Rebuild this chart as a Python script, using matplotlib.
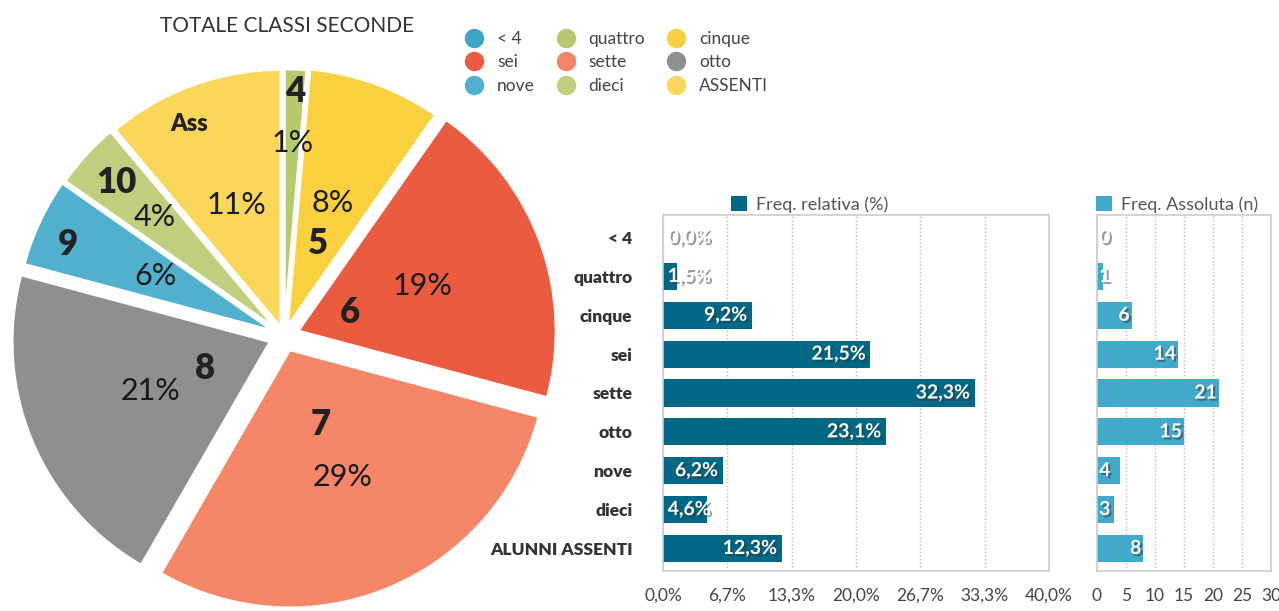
import matplotlib
matplotlib.use("Agg")
import matplotlib.pyplot as plt
import matplotlib.patheffects as pe
import numpy as np
from matplotlib.lines import Line2D

plt.rcParams['font.family'] = ['Lato', 'DejaVu Sans']

# data
categories = ['< 4', 'quattro', 'cinque', 'sei', 'sette', 'otto', 'nove', 'dieci', 'ASSENTI']
bar_labels = ['< 4', 'quattro', 'cinque', 'sei', 'sette', 'otto', 'nove', 'dieci', 'ALUNNI ASSENTI']
pie_numbers = ['', '4', '5', '6', '7', '8', '9', '10', 'Ass']
counts = [0, 1, 6, 14, 21, 15, 4, 3, 8]
rel_freq = [0.0, 1.5, 9.2, 21.5, 32.3, 23.1, 6.2, 4.6, 12.3]

colors = ['#3fa5c8', '#b5c96f', '#f9d13f', '#ea5b40', '#f58667',
          '#8f8f8f', '#50b0ce', '#bfcf7d', '#fad65a']
explode = [0, 0.035, 0.04, 0.058, 0.058, 0.058, 0.045, 0.04, 0.035]
# label placement (fraction of radius, angle shift in degrees)
num_r = [0, 0.95, 0.38, 0.27, 0.37, 0.33, 0.91, 0.88, 0.90]
num_da = [0, 0, 0, 0, 0, 0, 2, 0, 4]
pct_r = [0, 0.75, 0.55, 0.57, 0.59, 0.56, 0.55, 0.68, 0.54]

W, H = 1279, 611
fig = plt.figure(figsize=(W / 100, H / 100), dpi=100)

# ---- pie
R = 258
cx, cy = 284, 336
half = 1.1 * R
axp = fig.add_axes([(cx - half) / W, (H - cy - half) / H, 2 * half / W, 2 * half / H])
wedges, _ = axp.pie(counts, colors=colors, startangle=90, counterclock=False,
                    explode=explode, radius=1,
                    wedgeprops=dict(edgecolor='white', linewidth=2))
axp.set_xlim(-1.1, 1.1)
axp.set_ylim(-1.1, 1.1)
axp.set_aspect('equal')
axp.axis('off')

total = sum(counts)
for i, w in enumerate(wedges):
    if counts[i] == 0:
        continue
    mid = (w.theta1 + w.theta2) / 2
    a1 = np.deg2rad(mid + num_da[i])
    fs = 17 if pie_numbers[i] == 'Ass' else 25
    axp.text(num_r[i] * np.cos(a1), num_r[i] * np.sin(a1), pie_numbers[i],
             ha='center', va='center', fontsize=fs, fontweight='heavy', color='#222222')
    a2 = np.deg2rad(mid)
    pct = round(100 * counts[i] / total)
    axp.text(pct_r[i] * np.cos(a2), pct_r[i] * np.sin(a2), f'{pct}%',
             ha='center', va='center', fontsize=22, color='#1a1a1a')

fig.text(287 / W, 1 - 26 / H, 'TOTALE CLASSI SECONDE', ha='center', va='center',
         fontsize=15, color='#333333')

handles = [Line2D([], [], marker='o', linestyle='', markersize=13,
                  markerfacecolor=c, markeredgecolor=c) for c in colors]
order = [0, 3, 6, 1, 4, 7, 2, 5, 8]
fig.legend([handles[i] for i in order], [categories[i] for i in order],
           loc='upper left', bbox_to_anchor=(457 / W, 1 - 31 / H), ncol=3,
           frameon=False, fontsize=12.5, handletextpad=0.3, columnspacing=0.8,
           labelspacing=0.42, borderaxespad=0, borderpad=0, labelcolor='#444444')

# ---- bars
shadow = [pe.SimplePatchShadow(offset=(1.5, -1.5), shadow_rgbFace='#333333', alpha=0.5),
          pe.Normal()]
y = np.arange(len(categories))


def bar_panel(ax, vals, color, xmax, ticks, fmt, label, thr, legend_x):
    ax.barh(y, vals, height=0.7, color=color, label=label, zorder=2)
    ax.set_ylim(len(vals) - 0.42, -0.58)
    ax.set_xlim(0, xmax)
    ax.set_xticks(ticks)
    ax.set_xticklabels([fmt(t) for t in ticks])
    ax.grid(axis='x', linestyle=':', color='#bbbbbb', linewidth=1, zorder=0)
    for s in ax.spines.values():
        s.set_color('#cccccc')
        s.set_linewidth(1.2)
    ax.tick_params(axis='x', length=0, pad=12, labelsize=12.5, labelcolor='#444444')
    ax.tick_params(axis='y', length=0)
    pad = xmax * 0.012
    for yi, v in zip(y, vals):
        txt = fmt(v) if isinstance(v, float) else str(v)
        if v < thr:
            ax.text(pad, yi, txt, ha='left', va='center', color='white',
                    fontsize=14, fontweight='bold', path_effects=shadow, zorder=3)
        else:
            ax.text(v - pad, yi, txt, ha='right', va='center', color='white',
                    fontsize=14, fontweight='bold', path_effects=shadow, zorder=3)
    ax.legend(loc='lower center', bbox_to_anchor=(legend_x, 1.0), frameon=False,
              fontsize=13, handlelength=0.9, handleheight=0.9, handletextpad=0.5,
              borderaxespad=0.1, borderpad=0, labelcolor='#555555')


ax1 = fig.add_axes([663 / W, (H - 571) / H, 386 / W, 356 / H])
ticks1 = [i * 40 / 6 for i in range(7)]
bar_panel(ax1, rel_freq, '#006885', 40, ticks1,
          lambda t: f'{t:.1f}%'.replace('.', ','), 'Freq. relativa (%)', 6.0, 0.38)
ax1.set_yticks(y)
ax1.set_yticklabels(bar_labels, fontsize=12.5, fontweight='heavy', color='#333333')
ax1.tick_params(axis='y', pad=22)

ax2 = fig.add_axes([1097 / W, (H - 571) / H, 174 / W, 356 / H])
bar_panel(ax2, counts, '#41a9c9', 30, list(range(0, 31, 5)),
          lambda t: str(int(t)), 'Freq. Assoluta (n)', 5, 0.46)
ax2.set_yticks([])

fig.savefig('out.png', dpi=100)
